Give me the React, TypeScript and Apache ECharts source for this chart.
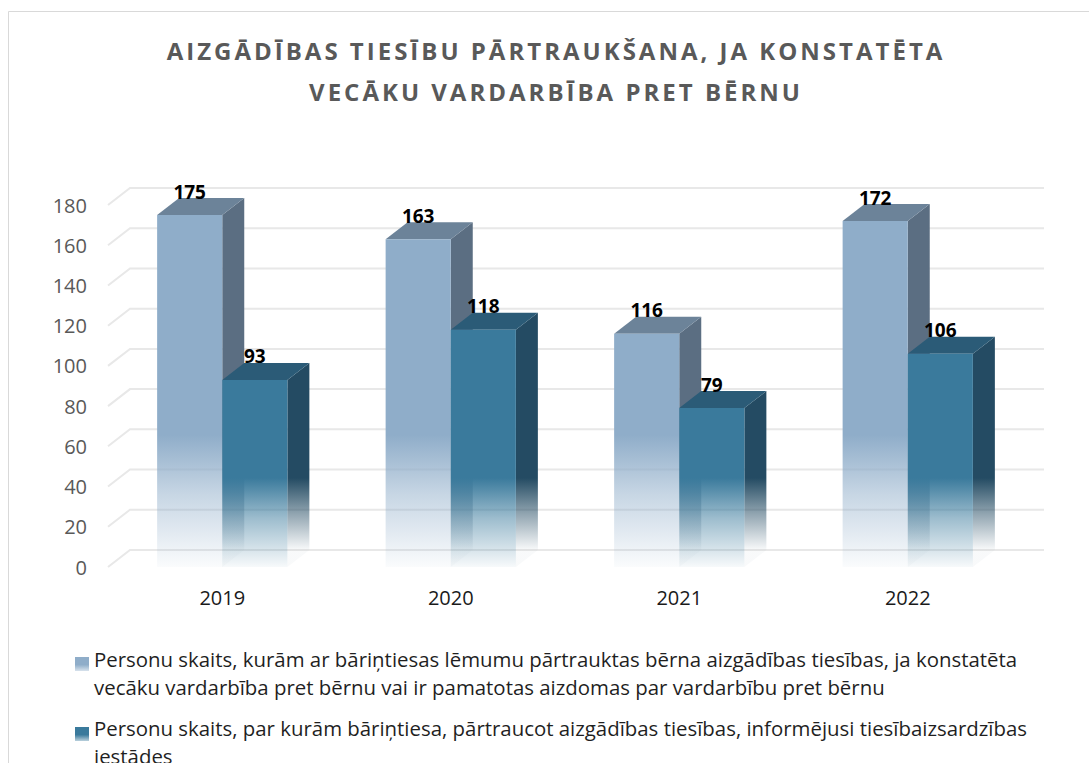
import { useEffect, useRef } from 'react';
import * as echarts from 'echarts';

const categories = ['2019', '2020', '2021', '2022'];
const terminatedCounts = [175, 163, 116, 172];
const reportedCounts = [93, 118, 79, 106];
const yTicks = [0, 20, 40, 60, 80, 100, 120, 140, 160, 180];
const titleText = 'AIZGĀDĪBAS TIESĪBU PĀRTRAUKŠANA, JA KONSTATĒTA\nVECĀKU VARDARBĪBA PRET BĒRNU';
const legendLabels = [
  'Personu skaits, kurām ar bāriņtiesas lēmumu pārtrauktas bērna aizgādības tiesības, ja konstatēta\nvecāku vardarbība pret bērnu vai ir pamatotas aizdomas par vardarbību pret bērnu',
  'Personu skaits, par kurām bāriņtiesa, pārtraucot aizgādības tiesības, informējusi tiesībaizsardzības\niestādes',
];

const DX = 22;
const DY = 17;
const FONT = "'Open Sans', 'Noto Sans', sans-serif";

const palette = [
  { front: [143, 173, 201], top: '#6c8399', side: [91, 110, 130], fadeStart: 435 },
  { front: [58, 122, 156], top: '#2b5b77', side: [36, 75, 99], fadeStart: 478 },
];

const rgba = (c: number[], a: number) => `rgba(${c[0]},${c[1]},${c[2]},${a})`;

function makeBarRenderer(s: number) {
  const pal = palette[s];
  return (params: any, api: any) => {
    const cat = api.value(0);
    const val = api.value(1);
    const top = api.coord([cat, val]);
    const base = api.coord([cat, 0]);
    const band = api.size([1, 0])[0];
    const w = band * 0.285;
    const x0 = s === 0 ? top[0] - w : top[0];
    const x1 = x0 + w;
    const yT = top[1];
    const yB = base[1];
    const frontGrad = new echarts.graphic.LinearGradient(0, pal.fadeStart, 0, yB, [
      { offset: 0, color: rgba(pal.front, 1) },
      { offset: 0.45, color: rgba(pal.front, 0.5) },
      { offset: 1, color: rgba(pal.front, 0.04) },
    ], true);
    const sideGrad = new echarts.graphic.LinearGradient(0, pal.fadeStart, 0, yB - DY, [
      { offset: 0, color: rgba(pal.side, 1) },
      { offset: 0.5, color: rgba(pal.side, 0.5) },
      { offset: 1, color: rgba(pal.side, 0.03) },
    ], true);
    return {
      type: 'group',
      children: [
        {
          type: 'polygon',
          shape: { points: [[x1, yT], [x1 + DX, yT - DY], [x1 + DX, yB - DY], [x1, yB]] },
          style: { fill: sideGrad },
        },
        {
          type: 'polygon',
          shape: { points: [[x0, yT], [x0 + DX, yT - DY], [x1 + DX, yT - DY], [x1, yT]] },
          style: { fill: pal.top },
        },
        {
          type: 'rect',
          shape: { x: x0, y: yT, width: w, height: yB - yT },
          style: { fill: frontGrad },
        },
        {
          type: 'text',
          style: {
            text: String(val),
            x: (x0 + x1) / 2,
            y: yT - DY + 3,
            textAlign: 'center',
            textVerticalAlign: 'bottom',
            align: 'center',
            verticalAlign: 'bottom',
            fontSize: 19,
            fontWeight: 'bold',
            fontFamily: FONT,
            fill: '#000000',
          },
        },
      ],
    };
  };
}

function renderGridLine(params: any, api: any) {
  const v = api.value(1);
  const y = api.coord([0, v])[1];
  const cs = params.coordSys;
  return {
    type: 'polyline',
    shape: { points: [[cs.x, y], [cs.x + DX, y - DY], [cs.x + cs.width + DX, y - DY]] },
    style: { stroke: '#e8e8e8', lineWidth: 2, fill: 'none' },
    silent: true,
  };
}

function legendIcon(c: number[]) {
  return new echarts.graphic.LinearGradient(0, 0, 0, 1, [
    { offset: 0, color: rgba(c, 1) },
    { offset: 0.55, color: rgba(c, 1) },
    { offset: 1, color: rgba(c, 0.35) },
  ]);
}

export default function App() {
  const ref = useRef<HTMLDivElement>(null);
  useEffect(() => {
    if (!ref.current) return;
    const chart = echarts.init(ref.current, undefined, { renderer: 'svg' });
    chart.setOption({
      animation: false,
      backgroundColor: '#ffffff',
      title: {
        text: titleText,
        left: 551,
        top: 25,
        textAlign: 'center',
        textStyle: {
          fontFamily: FONT,
          fontSize: 24,
          fontWeight: 'bold',
          color: '#595959',
          lineHeight: 41,
        },
      },
      grid: { left: 108, right: 67, top: 205, bottom: 196 },
      xAxis: {
        type: 'category',
        data: categories,
        axisLine: { show: false },
        axisTick: { show: false },
        axisLabel: { color: '#1a1a1a', fontSize: 20, fontFamily: FONT, margin: 20 },
      },
      yAxis: {
        type: 'value',
        min: 0,
        max: 180,
        interval: 20,
        axisLine: { show: false },
        axisTick: { show: false },
        splitLine: { show: false },
        axisLabel: { color: '#595959', fontSize: 20, fontFamily: FONT, margin: 21 },
      },
      graphic: [
        {
          type: 'rect',
          z: -10,
          silent: true,
          shape: { x: 8.5, y: 11.5, width: 1100, height: 800 },
          style: { fill: 'none', stroke: '#d9d9d9', lineWidth: 1 },
        },
        {
          type: 'rect',
          shape: { x: 75, y: 657, width: 14, height: 14 },
          style: { fill: legendIcon(palette[0].front) },
        },
        {
          type: 'text',
          x: 94,
          y: 645,
          style: {
            text: legendLabels[0],
            fontFamily: FONT,
            fontSize: 20.4,
            lineHeight: 28,
            fill: '#1f1f1f',
            textVerticalAlign: 'top',
            verticalAlign: 'top',
          },
        },
        {
          type: 'rect',
          shape: { x: 75, y: 727, width: 14, height: 14 },
          style: { fill: legendIcon(palette[1].front) },
        },
        {
          type: 'text',
          x: 94,
          y: 714,
          style: {
            text: legendLabels[1],
            fontFamily: FONT,
            fontSize: 20.4,
            lineHeight: 28,
            fill: '#1f1f1f',
            textVerticalAlign: 'top',
            verticalAlign: 'top',
          },
        },
      ],
      series: [
        {
          type: 'custom',
          name: 'grid',
          renderItem: renderGridLine,
          data: yTicks.map((v) => [0, v]),
          z: 1,
          silent: true,
        },
        {
          type: 'custom',
          name: legendLabels[0],
          renderItem: makeBarRenderer(0),
          data: terminatedCounts.map((v, i) => [i, v]),
          z: 2,
        },
        {
          type: 'custom',
          name: legendLabels[1],
          renderItem: makeBarRenderer(1),
          data: reportedCounts.map((v, i) => [i, v]),
          z: 3,
        },
      ],
    });
    return () => chart.dispose();
  }, []);
  return (
    <>
      <style>{`#root svg text[style*="24px"] { letter-spacing: 3px; }`}</style>
      <div
        ref={ref}
        style={{ position: 'fixed', left: 0, top: 0, width: 1089, height: 763 }}
      />
    </>
  );
}
